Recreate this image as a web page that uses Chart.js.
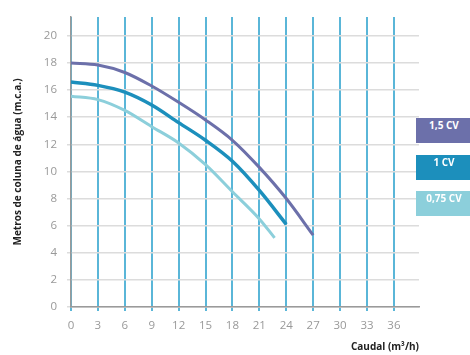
<!DOCTYPE html>
<html lang="pt">
<head>
    <meta charset="UTF-8">
    <title>Curvas da bomba</title>
    <script src="https://cdn.jsdelivr.net/npm/chart.js"></script>
    <style>
        html, body { margin: 0; padding: 0; background: #fff; }
        .wrap { position: relative; width: 470px; height: 355px; overflow: hidden; }
        .tag {
            position: absolute; left: 416px; width: 56px; height: 25px; line-height: 25px;
            color: #fff; font: bold 10px "Open Sans", sans-serif; text-align: center; white-space: nowrap;
        }
    </style>
</head>
<body>
    <div class="wrap">
        <canvas id="pumpChart" width="470" height="355"></canvas>
        <div id="tags"></div>
    </div>
    <script>
        // curve data
        const seriesNames = ['1,5 CV', '1 CV', '0,75 CV'];
        const flow15 = [0, 3, 6, 9, 12, 15, 18, 21, 24, 27];
        const head15 = [18.0, 17.85, 17.3, 16.3, 15.1, 13.8, 12.3, 10.3, 8.0, 5.3];
        const flow10 = [0, 3, 6, 9, 12, 15, 18, 21, 24];
        const head10 = [16.6, 16.35, 15.85, 14.9, 13.6, 12.3, 10.75, 8.6, 6.1];
        const flow075 = [0, 3, 6, 9, 12, 15, 18, 21, 22.7];
        const head075 = [15.55, 15.3, 14.5, 13.3, 12.1, 10.5, 8.5, 6.5, 5.1];
        const xTicks = [0, 3, 6, 9, 12, 15, 18, 21, 24, 27, 30, 33, 36];
        const yTicks = [0, 2, 4, 6, 8, 10, 12, 14, 16, 18, 20];

        const colors = ['#6c70aa', '#1c8fbc', '#8ccfdb'];

        function pts(xs, ys) {
            return xs.map((x, i) => ({ x: x, y: ys[i] }));
        }

        const ctx = document.getElementById('pumpChart').getContext('2d');
        const pumpChart = new Chart(ctx, {
            type: 'line',
            data: {
                datasets: [
                    { label: seriesNames[0], data: pts(flow15, head15), borderColor: colors[0], borderWidth: 3 },
                    { label: seriesNames[1], data: pts(flow10, head10), borderColor: colors[1], borderWidth: 3.5 },
                    { label: seriesNames[2], data: pts(flow075, head075), borderColor: colors[2], borderWidth: 3 }
                ]
            },
            options: {
                responsive: false,
                animation: false,
                layout: { padding: { left: 8, right: 51, top: 12, bottom: 2 } },
                elements: {
                    point: { radius: 0 },
                    line: { cubicInterpolationMode: 'monotone', fill: false, borderCapStyle: 'butt' }
                },
                plugins: { legend: { display: false }, tooltip: { enabled: false } },
                scales: {
                    x: {
                        type: 'linear',
                        min: 0,
                        max: 38.8,
                        afterBuildTicks: s => { s.ticks = xTicks.map(v => ({ value: v })); },
                        afterFit: s => { s.height = 46; },
                        grid: { color: '#5ab6d8', lineWidth: 2, tickLength: 4 },
                        border: { color: '#9a9a9a', width: 1.5 },
                        ticks: { color: '#999', padding: 8, font: { family: 'Open Sans', size: 11.5 } },
                        title: {
                            display: true, text: 'Caudal (m³/h)', align: 'end', color: '#222',
                            padding: { top: 0, bottom: 0 },
                            font: { family: 'Open Sans', size: 10, weight: 'bold' }
                        }
                    },
                    y: {
                        min: 0,
                        max: 21.4,
                        afterBuildTicks: s => { s.ticks = yTicks.map(v => ({ value: v })); },
                        afterFit: s => { s.width = 63; },
                        grid: { color: '#dcdcdc', lineWidth: 1.5, tickLength: 4 },
                        border: { color: '#9a9a9a', width: 1.5 },
                        ticks: { color: '#999', padding: 10, font: { family: 'Open Sans', size: 11.5 } },
                        title: {
                            display: true, text: 'Metros de coluna de água (m.c.a.)', color: '#222',
                            padding: { top: 4, bottom: 0 },
                            font: { family: 'Open Sans', size: 10, weight: 'bold' }
                        }
                    }
                }
            }
        });

        // series tags on the right
        const tagTops = [118, 155, 191];
        const tags = document.getElementById('tags');
        seriesNames.forEach((name, i) => {
            const d = document.createElement('div');
            d.className = 'tag';
            d.style.top = tagTops[i] + 'px';
            d.style.background = colors[i];
            d.textContent = name;
            tags.appendChild(d);
        });
    </script>
</body>
</html>
